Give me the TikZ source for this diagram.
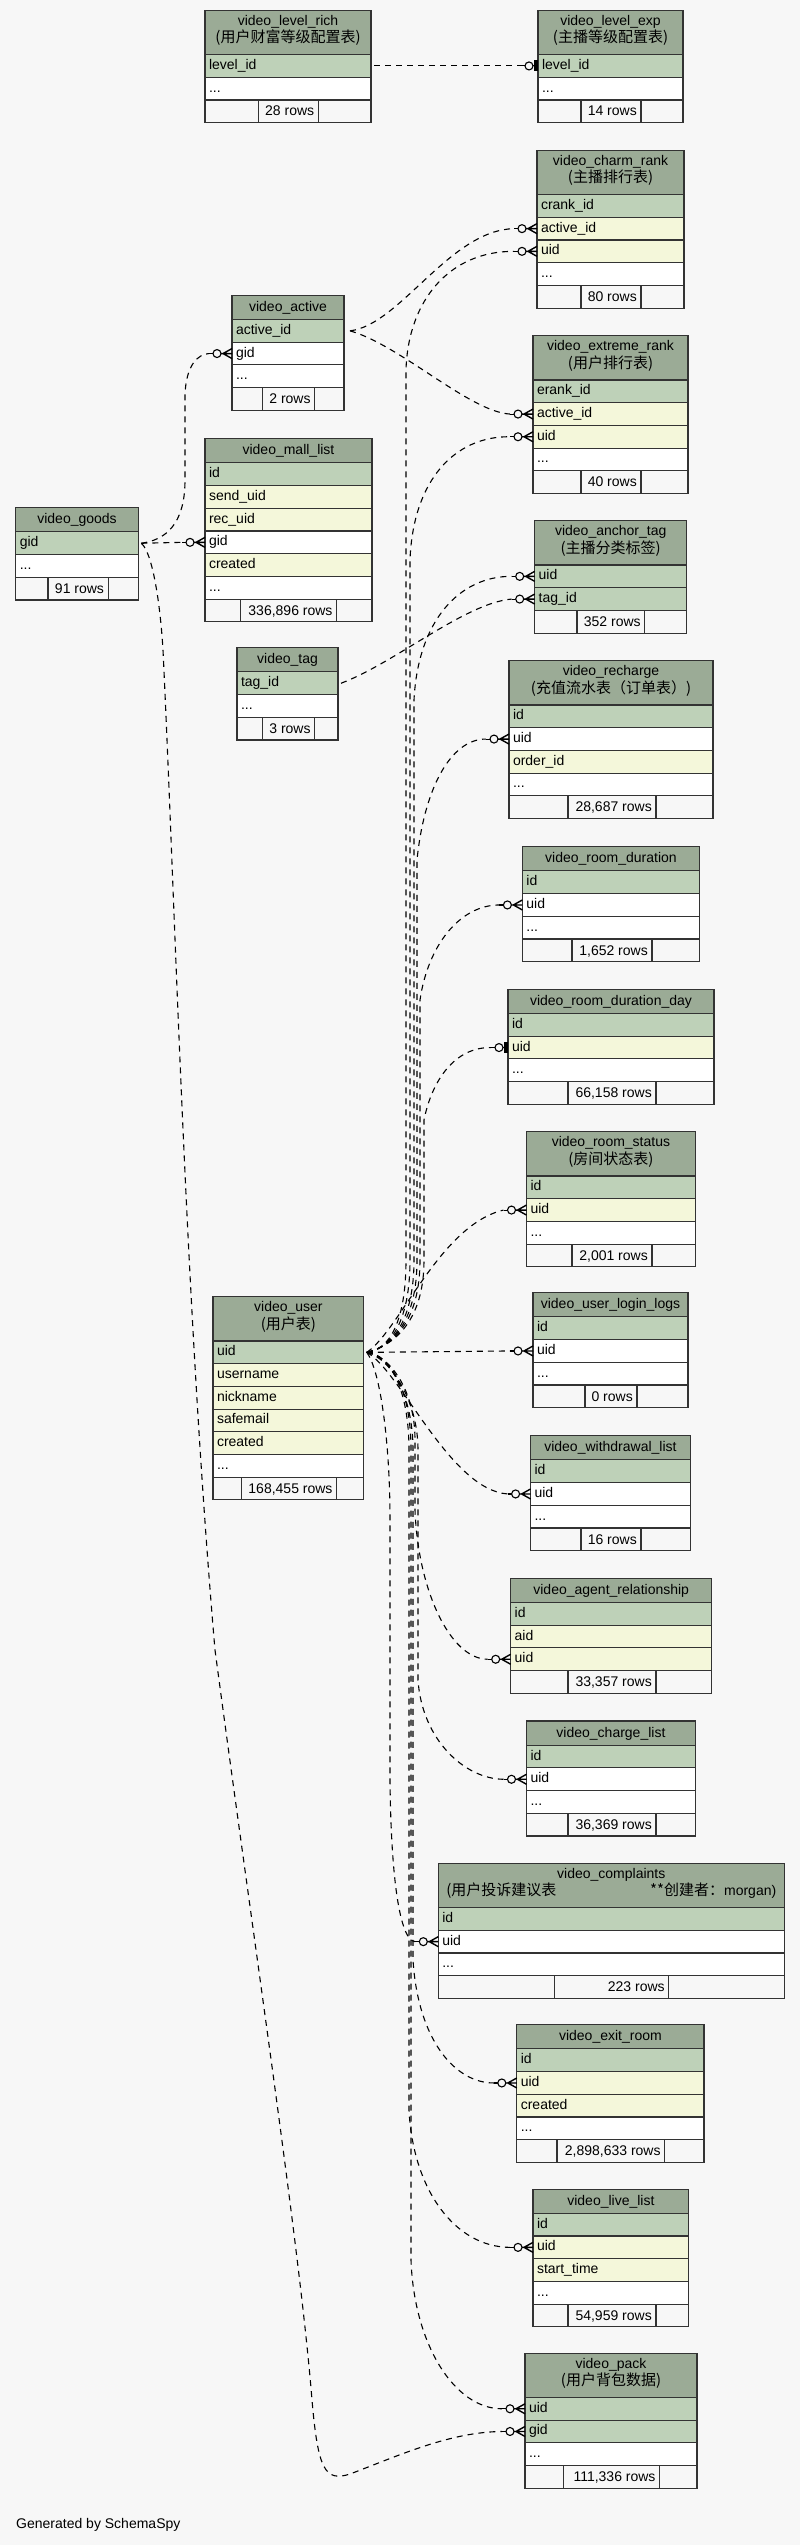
\documentclass[tikz,border=0pt]{standalone}
\usepackage{fontspec}
\setmainfont{Liberation Sans}
\newfontfamily\cjk{Noto Sans CJK SC}
\definecolor{bg}{HTML}{F7F7F7}
\definecolor{cHD}{HTML}{9BAB96}
\definecolor{cPK}{HTML}{BED1B8}
\definecolor{cIX}{HTML}{F4F7DA}
\definecolor{cWH}{HTML}{FFFFFF}
\definecolor{cFT}{HTML}{F7F7F7}
\definecolor{bd}{HTML}{333333}
\tikzset{
 cellbox/.style={draw=bd, line width=1.1pt, inner sep=0pt, outer sep=0pt},
 rowcell/.style={cellbox, anchor=north west, minimum height=22.7pt, inner xsep=4pt, inner ysep=0pt, align=left, text height=10.5pt, text depth=3.5pt, font=\fontsize{14}{17}\selectfont},
 headbox/.style={cellbox, fill=cHD, anchor=north west},
 ttl/.style={anchor=base, inner sep=0pt, font=\fontsize{14}{17}\selectfont},
 subt/.style={anchor=base, inner sep=0pt, font=\cjk\fontsize{15}{17}\selectfont},
 foottxt/.style={anchor=base east, inner sep=0pt, font=\fontsize{14}{17}\selectfont},
 fk/.style={draw=black, line width=1.1pt, dash pattern=on 6pt off 5pt},
 mk/.style={draw=black, line width=1.1pt},
}
\newcommand\tabhead[6]{%
  \pgfmathsetmacro\tw{#3-#2}%
  \xdef\TXa{#2}\xdef\TXb{#3}%
  \if\relax\detokenize{#6}\relax
    \node[headbox, minimum width=\tw pt, minimum height=24.2pt] (#1) at (#2,#4) {};
    \node[ttl] (#1-t) at ([yshift=-16pt]#1.north) {#5};
    \pgfmathsetmacro\ny{#4+24.2}%
  \else
    \node[headbox, minimum width=\tw pt, minimum height=44.3pt] (#1) at (#2,#4) {};
    \node[ttl] (#1-t) at ([yshift=-15pt]#1.north) {#5};
    \node[subt] (#1-s) at ([yshift=-32.5pt]#1.north) {#6};
    \pgfmathsetmacro\ny{#4+44.3}%
  \fi
  \xdef\TY{\ny}%
}
\newcommand\tabrow[3]{%
  \pgfmathsetmacro\tw{\TXb-\TXa-8}%
  \node[rowcell, fill=#2, text width=\tw pt] (#1) at (\TXa,\TY) {#3};
  \pgfmathsetmacro\ny{\TY+22.7}\xdef\TY{\ny}%
}
\newcommand\tabfoot[4]{%
  \draw[cellbox, fill=cFT] (\TXa,\TY) rectangle (#2,\TY+22.7);
  \draw[cellbox, fill=cFT] (#2,\TY) rectangle (#3,\TY+22.7);
  \draw[cellbox, fill=cFT] (#3,\TY) rectangle (\TXb,\TY+22.7);
  \node[foottxt] (#1) at (#3-4,\TY+16) {#4};
}
\newcommand\crowmark[1]{%
  \draw[mk] ([xshift=-23pt]#1.west) -- ([xshift=-19pt]#1.west);
  \draw[mk, fill=bg] ([xshift=-15pt]#1.west) circle (4pt);
  \draw[mk, line width=1.4pt] ([xshift=-11pt]#1.west) -- (#1.west)
     ([xshift=-9pt]#1.west) -- ([yshift=5pt]#1.west)
     ([xshift=-9pt]#1.west) -- ([yshift=-5pt]#1.west);
}
\newcommand\teemark[1]{%
  \draw[mk] ([xshift=-17pt]#1.west) -- ([xshift=-13pt]#1.west);
  \draw[mk, fill=bg] ([xshift=-9pt]#1.west) circle (4pt);
  \draw[mk] ([xshift=-5pt]#1.west) -- (#1.west);
  \fill ([xshift=-4pt,yshift=-5.5pt]#1.west) rectangle ([xshift=-0.5pt,yshift=5.5pt]#1.west);
}
\begin{document}
\begin{tikzpicture}[x=1pt,y=-1pt]
\path[fill=bg, use as bounding box] (0,0) rectangle (800,2545);

% ---------- tables ----------
\tabhead{lr}{205}{371}{10.3}{video\_level\_rich}{(用户财富等级配置表)}
\tabrow{lr-level}{cPK}{level\_id}
\tabrow{lr-dots}{cWH}{...}
\tabfoot{lr-f}{258.7}{318.4}{28 rows}

\tabhead{le}{538}{683}{10.3}{video\_level\_exp}{(主播等级配置表)}
\tabrow{le-level}{cPK}{level\_id}
\tabrow{le-dots}{cWH}{...}
\tabfoot{le-f}{581}{641}{14 rows}

\tabhead{cr}{537}{684}{150.3}{video\_charm\_rank}{(主播排行表)}
\tabrow{cr-crank}{cPK}{crank\_id}
\tabrow{cr-active}{cIX}{active\_id}
\tabrow{cr-uid}{cIX}{uid}
\tabrow{cr-dots}{cWH}{...}
\tabfoot{cr-f}{581}{641}{80 rows}

\tabhead{ac}{232}{344}{295.3}{video\_active}{}
\tabrow{ac-active}{cPK}{active\_id}
\tabrow{ac-gid}{cWH}{gid}
\tabrow{ac-dots}{cWH}{...}
\tabfoot{ac-f}{262.8}{314.8}{2 rows}

\tabhead{er}{533}{688}{335.7}{video\_extreme\_rank}{(用户排行表)}
\tabrow{er-erank}{cPK}{erank\_id}
\tabrow{er-active}{cIX}{active\_id}
\tabrow{er-uid}{cIX}{uid}
\tabrow{er-dots}{cWH}{...}
\tabfoot{er-f}{581}{641}{40 rows}

\tabhead{ml}{205}{372}{438.7}{video\_mall\_list}{}
\tabrow{ml-id}{cPK}{id}
\tabrow{ml-send}{cIX}{send\_uid}
\tabrow{ml-rec}{cIX}{rec\_uid}
\tabrow{ml-gid}{cWH}{gid}
\tabrow{ml-created}{cIX}{created}
\tabrow{ml-dots}{cWH}{...}
\tabfoot{ml-f}{240.8}{336.7}{336,896 rows}

\tabhead{gd}{15.8}{138.3}{507.7}{video\_goods}{}
\tabrow{gd-gid}{cPK}{gid}
\tabrow{gd-dots}{cWH}{...}
\tabfoot{gd-f}{48}{108.2}{91 rows}

\tabhead{at}{534.7}{686.7}{520.7}{video\_anchor\_tag}{(主播分类标签)}
\tabrow{at-uid}{cPK}{uid}
\tabrow{at-tag}{cPK}{tag\_id}
\tabfoot{at-f}{577}{644.9}{352 rows}

\tabhead{tg}{237}{338}{647.7}{video\_tag}{}
\tabrow{tg-tag}{cPK}{tag\_id}
\tabrow{tg-dots}{cWH}{...}
\tabfoot{tg-f}{262.8}{314.8}{3 rows}

\tabhead{rc}{509}{713}{660.7}{video\_recharge}{(充值流水表（订单表）)}
\tabrow{rc-id}{cPK}{id}
\tabrow{rc-uid}{cWH}{uid}
\tabrow{rc-order}{cIX}{order\_id}
\tabrow{rc-dots}{cWH}{...}
\tabfoot{rc-f}{568}{656}{28,687 rows}

\tabhead{rd}{522.4}{699.5}{846.7}{video\_room\_duration}{}
\tabrow{rd-id}{cPK}{id}
\tabrow{rd-uid}{cWH}{uid}
\tabrow{rd-dots}{cWH}{...}
\tabfoot{rd-f}{572}{652}{1,652 rows}

\tabhead{rdd}{508}{714}{989.3}{video\_room\_duration\_day}{}
\tabrow{rdd-id}{cPK}{id}
\tabrow{rdd-uid}{cIX}{uid}
\tabrow{rdd-dots}{cWH}{...}
\tabfoot{rdd-f}{568}{656}{66,158 rows}

\tabhead{rs}{526.5}{695.4}{1131.7}{video\_room\_status}{(房间状态表)}
\tabrow{rs-id}{cPK}{id}
\tabrow{rs-uid}{cIX}{uid}
\tabrow{rs-dots}{cWH}{...}
\tabfoot{rs-f}{572}{652}{2,001 rows}

\tabhead{u}{213}{363.8}{1296.7}{video\_user}{(用户表)}
\tabrow{u-uid}{cPK}{uid}
\tabrow{u-username}{cIX}{username}
\tabrow{u-nickname}{cIX}{nickname}
\tabrow{u-safemail}{cIX}{safemail}
\tabrow{u-created}{cIX}{created}
\tabrow{u-dots}{cWH}{...}
\tabfoot{u-f}{241.3}{336.7}{168,455 rows}

\tabhead{ll}{533}{688}{1292.7}{video\_user\_login\_logs}{}
\tabrow{ll-id}{cPK}{id}
\tabrow{ll-uid}{cWH}{uid}
\tabrow{ll-dots}{cWH}{...}
\tabfoot{ll-f}{585}{637}{0 rows}

\tabhead{wd}{530.6}{690.3}{1435.7}{video\_withdrawal\_list}{}
\tabrow{wd-id}{cPK}{id}
\tabrow{wd-uid}{cWH}{uid}
\tabrow{wd-dots}{cWH}{...}
\tabfoot{wd-f}{581}{641}{16 rows}

\tabhead{ar}{510.7}{711.7}{1578.3}{video\_agent\_relationship}{}
\tabrow{ar-id}{cPK}{id}
\tabrow{ar-aid}{cIX}{aid}
\tabrow{ar-uid}{cIX}{uid}
\tabfoot{ar-f}{568}{656}{33,357 rows}

\tabhead{cl}{526.5}{695.4}{1721}{video\_charge\_list}{}
\tabrow{cl-id}{cPK}{id}
\tabrow{cl-uid}{cWH}{uid}
\tabrow{cl-dots}{cWH}{...}
\tabfoot{cl-f}{568}{656}{36,369 rows}

\tabhead{cp}{438.3}{784.2}{1863.3}{video\_complaints}{\hbox to 330pt{(用户投诉建议表\hfill **创建者：{\rmfamily\fontsize{14}{17}\selectfont morgan)}}}
\tabrow{cp-id}{cPK}{id}
\tabrow{cp-uid}{cWH}{uid}
\tabrow{cp-dots}{cWH}{...}
\tabfoot{cp-f}{554.6}{668.9}{223 rows}

\tabhead{ex}{516.8}{704}{2024.7}{video\_exit\_room}{}
\tabrow{ex-id}{cPK}{id}
\tabrow{ex-uid}{cIX}{uid}
\tabrow{ex-created}{cIX}{created}
\tabrow{ex-dots}{cWH}{...}
\tabfoot{ex-f}{557}{664.8}{2,898,633 rows}

\tabhead{lv}{533}{688.8}{2189.1}{video\_live\_list}{}
\tabrow{lv-id}{cPK}{id}
\tabrow{lv-uid}{cIX}{uid}
\tabrow{lv-start}{cIX}{start\_time}
\tabrow{lv-dots}{cWH}{...}
\tabfoot{lv-f}{568}{656}{54,959 rows}

\tabhead{vp}{525}{697}{2353.1}{video\_pack}{(用户背包数据)}
\tabrow{vp-uid}{cPK}{uid}
\tabrow{vp-gid}{cPK}{gid}
\tabrow{vp-dots}{cWH}{...}
\tabfoot{vp-f}{563.8}{659.7}{111,336 rows}

\node[anchor=base west, inner sep=0pt, font=\fontsize{14}{17}\selectfont] (gen) at (16,2528) {Generated by SchemaSpy};

% ---------- connectors ----------
\draw[fk] ([xshift=3pt]lr-level.east) -- ([xshift=-17pt]le-level.west);
\draw[fk] ([xshift=6pt]ac-active.east) .. controls (400,325) and (450,230) .. ([xshift=-23pt]cr-active.west);
\draw[fk] ([xshift=6pt]ac-active.east) .. controls (400,345) and (470,412) .. ([xshift=-23pt]er-active.west);

\draw[fk] ([xshift=3pt]u-uid.east) .. controls (390,1350) and (406,1320) .. (406,1260) -- (406,370) .. controls (408,300) and (450,251) .. ([xshift=-23pt]cr-uid.west);
\draw[fk] ([xshift=3pt]u-uid.east) .. controls (391,1349) and (410,1320) .. (410,1260) -- (410,560) .. controls (413,480) and (455,436) .. ([xshift=-23pt]er-uid.west);
\draw[fk] ([xshift=3pt]u-uid.east) .. controls (392,1348) and (414,1320) .. (414,1260) -- (414,700) .. controls (418,620) and (460,576) .. ([xshift=-23pt]at-uid.west);
\draw[fk] ([xshift=3pt]u-uid.east) .. controls (393,1347) and (417,1320) .. (417,1260) -- (417,860) .. controls (424,790) and (450,739) .. ([xshift=-23pt]rc-uid.west);
\draw[fk] ([xshift=3pt]u-uid.east) .. controls (394,1346) and (420,1320) .. (420,1260) -- (420,1000) .. controls (428,945) and (460,905) .. ([xshift=-23pt]rd-uid.west);
\draw[fk] ([xshift=3pt]u-uid.east) .. controls (395,1345) and (424,1320) .. (424,1260) -- (424,1120) .. controls (432,1080) and (455,1047) .. ([xshift=-17pt]rdd-uid.west);
\draw[fk] ([xshift=3pt]u-uid.east) .. controls (400,1330) and (440,1225) .. ([xshift=-23pt]rs-uid.west);
\draw[fk] ([xshift=3pt]u-uid.east) -- ([xshift=-23pt]ll-uid.west);
\draw[fk] ([xshift=3pt]u-uid.east) .. controls (400,1370) and (450,1490) .. ([xshift=-23pt]wd-uid.west);
\draw[fk] ([xshift=3pt]u-uid.east) .. controls (390,1356) and (415,1390) .. (415,1440) -- (415,1510) .. controls (418,1590) and (450,1659) .. ([xshift=-23pt]ar-uid.west);
\draw[fk] ([xshift=3pt]u-uid.east) .. controls (390,1358) and (418,1400) .. (418,1450) -- (418,1680) .. controls (422,1740) and (465,1779) .. ([xshift=-23pt]cl-uid.west);
\draw[fk] ([xshift=3pt]u-uid.east) .. controls (380,1370) and (390,1440) .. (390,1520) -- (390,1780) .. controls (391,1880) and (400,1941) .. ([xshift=-23pt]cp-uid.west);
\draw[fk] ([xshift=3pt]u-uid.east) .. controls (390,1356) and (413,1395) .. (413,1450) -- (413,1960) .. controls (418,2040) and (455,2083) .. ([xshift=-23pt]ex-uid.west);
\draw[fk] ([xshift=3pt]u-uid.east) .. controls (390,1354) and (409,1390) .. (409,1450) -- (409,2110) .. controls (413,2190) and (455,2247) .. ([xshift=-23pt]lv-uid.west);
\draw[fk] ([xshift=3pt]u-uid.east) .. controls (388,1354) and (411,1385) .. (411,1450) -- (411,2260) .. controls (414,2345) and (455,2409) .. ([xshift=-23pt]vp-uid.west);

\draw[fk] ([xshift=3pt]gd-gid.east) .. controls (165,540) and (185,525) .. (185,480) -- (185,395) .. controls (186,365) and (198,354) .. ([xshift=-23pt]ac-gid.west);
\draw[fk] ([xshift=3pt]gd-gid.east) -- ([xshift=-23pt]ml-gid.west);
\draw[fk] ([xshift=3pt]gd-gid.east) .. controls (152,552) and (160,600) .. (163,650) .. controls (175,900) and (185,1300) .. (215,1650) .. controls (255,1950) and (300,2250) .. (312,2400) .. controls (318,2470) and (325,2482) .. (350,2474) .. controls (400,2455) and (450,2432) .. ([xshift=-23pt]vp-gid.west);
\draw[fk] ([xshift=3pt]tg-tag.east) .. controls (395,663) and (465,603) .. ([xshift=-23pt]at-tag.west);

% ---------- end marks ----------
\teemark{le-level}
\teemark{rdd-uid}
\crowmark{cr-active}
\crowmark{cr-uid}
\crowmark{er-active}
\crowmark{er-uid}
\crowmark{ac-gid}
\crowmark{ml-gid}
\crowmark{at-uid}
\crowmark{at-tag}
\crowmark{rc-uid}
\crowmark{rd-uid}
\crowmark{rs-uid}
\crowmark{ll-uid}
\crowmark{wd-uid}
\crowmark{ar-uid}
\crowmark{cl-uid}
\crowmark{cp-uid}
\crowmark{ex-uid}
\crowmark{lv-uid}
\crowmark{vp-uid}
\crowmark{vp-gid}
\end{tikzpicture}
\end{document}
